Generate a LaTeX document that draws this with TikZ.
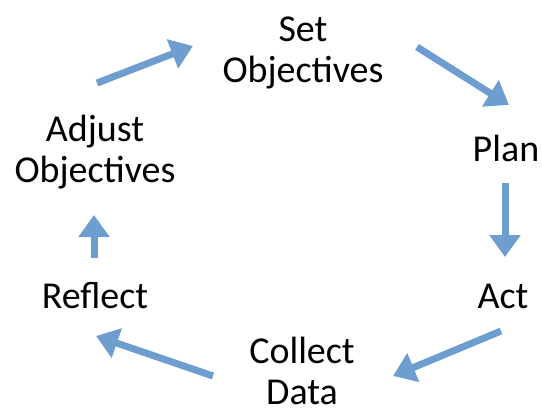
\documentclass[tikz,border=0pt]{standalone}
\usepackage{fontspec}
\setmainfont{Carlito}
\usetikzlibrary{arrows.meta,positioning}
\definecolor{steel}{HTML}{6D9ECF}

\begin{document}
\begin{tikzpicture}[x=0.5pt, y=-0.5pt, font=\fontsize{19}{20.5}\selectfont]
  \tikzset{
    stage/.style={align=center, inner sep=0pt, text=black},
    cyc/.style={-{Triangle[width=15pt, length=11pt]}, steel, line width=3.5pt},
  }
  \useasboundingbox (0,0) rectangle (542,414);
  % the six stages of the cycle
  \node[stage] (set)     at (303,53)  {Set\\Objectives};
  \node[stage] (plan)    at (506,148) {Plan};
  \node[stage] (act)     at (503,296) {Act};
  \node[stage] (collect) at (302,371) {Collect\\Data};
  \node[stage] (reflect) at (95,296)  {Reflect};
  \node[stage] (adjust)  at (95,152)  {Adjust\\Objectives};
  % arrow ends between the stages
  \coordinate (adjust-out)  at (97,83);   \coordinate (set-in)     at (193,46);
  \coordinate (set-out)     at (417,47);  \coordinate (plan-in)    at (509,105);
  \coordinate (plan-out)    at (505,183); \coordinate (act-in)     at (505,257);
  \coordinate (act-out)     at (501,331); \coordinate (collect-in) at (393,376);
  \coordinate (collect-out) at (213,376); \coordinate (reflect-in) at (96,336);
  \coordinate (reflect-out) at (94,258);  \coordinate (adjust-in)  at (94,215);
  \draw[cyc] (adjust-out)  -- (set-in);
  \draw[cyc] (set-out)     -- (plan-in);
  \draw[cyc] (plan-out)    -- (act-in);
  \draw[cyc] (act-out)     -- (collect-in);
  \draw[cyc] (collect-out) -- (reflect-in);
  \draw[cyc] (reflect-out) -- (adjust-in);
\end{tikzpicture}
\end{document}
